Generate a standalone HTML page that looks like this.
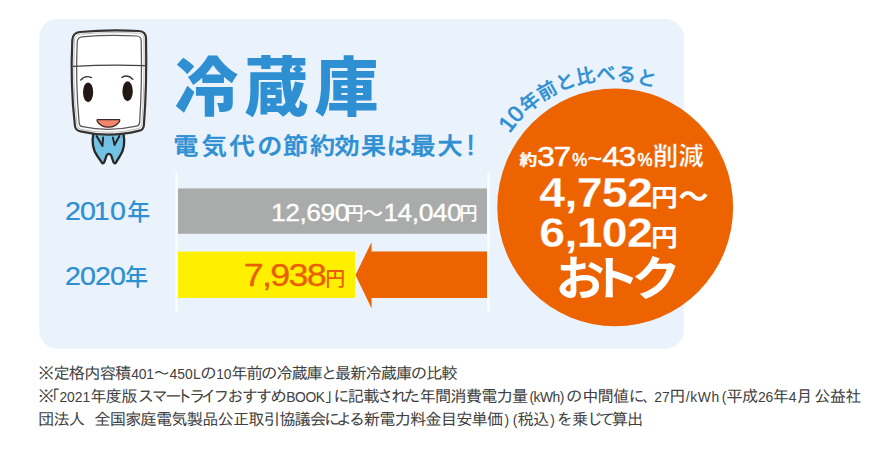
<!DOCTYPE html>
<html lang="ja">
<head>
<meta charset="utf-8">
<title>冷蔵庫 電気代の節約効果</title>
<style>
html,body{margin:0;padding:0;background:#fff;}
body{width:870px;height:454px;overflow:hidden;position:relative;
  font-family:"Liberation Sans","Noto Sans CJK JP",sans-serif;}
#art{position:absolute;left:0;top:0;width:870px;height:454px;display:block;}
</style>
</head>
<body>
<svg id="art" width="870" height="454" viewBox="0 0 870 454"
     font-family="'Liberation Sans','Noto Sans CJK JP',sans-serif">
  <rect x="39.2" y="19" width="644.7" height="329.7" rx="18" ry="18.5" fill="#eaf3fc"/>
  <rect x="175.2" y="173" width="2.2" height="139" fill="#fff" opacity="0.85"/>
  <rect x="487.2" y="173.5" width="2.2" height="138.5" fill="#fff" opacity="0.85"/>
  <rect x="178" y="188.4" width="309" height="45.4" fill="#aaacab"/>
  <rect x="178" y="251.6" width="177" height="46.3" fill="#fff000"/>
  <polygon points="355.5,275 371.6,241.9 371.6,251.6 487,251.6 487,297.9 371.6,297.9 371.6,308.4" fill="#ec6300"/>
  <ellipse cx="615.2" cy="207.3" rx="117.9" ry="118.9" fill="#ec6300"/>
  <text transform="translate(174.5 109.5) scale(1 1)" font-size="64" font-weight="900" fill="#2e8fd2" letter-spacing="6">冷蔵庫</text>
  <g><text transform="scale(1.08 1)" x="160.37 186.85 212.41 238.15 262.04 287.04 309.81 334.26 357.78 380.00 405.00 432.22" y="153.8" font-size="23.2" font-weight="500" fill="#2e8fd2" stroke="#2e8fd2" stroke-width="0.45">電気代の節約効果は最大</text><text transform="translate(466.6 154.6) scale(1 1)" font-size="29.5" font-weight="400" fill="#2e8fd2" stroke="#2e8fd2" stroke-width="0.5">!</text></g>
  <g><text transform="translate(64.9 219.7) scale(1.106 1)" font-size="25.9" font-weight="400" fill="#2e8fd2" letter-spacing="-0.84" x="0 13.56 26.1 40.69" stroke="#2e8fd2" stroke-width="0.25">2010</text><text transform="translate(127.3 219.8) scale(1 1)" font-size="23" font-weight="500" fill="#2e8fd2">年</text></g>
  <g><text transform="translate(64.9 285.3) scale(1.106 1)" font-size="25.9" font-weight="400" fill="#2e8fd2" letter-spacing="-0.84" stroke="#2e8fd2" stroke-width="0.25">2020</text><text transform="translate(125.0 285.4) scale(1 1)" font-size="23" font-weight="500" fill="#2e8fd2">年</text></g>
  <g><text transform="translate(271.0 220.7) scale(1.148 1)" font-size="23" font-weight="400" fill="#fff" letter-spacing="-0.42" stroke="#fff" stroke-width="0.3">12,690</text><text transform="translate(345.4 220.4) scale(1 1)" font-size="18" font-weight="500" fill="#fff">円</text><text transform="translate(362.6 220.6) scale(1 1)" font-size="20.5" font-weight="500" fill="#fff">〜</text><text transform="translate(383.4 220.7) scale(1.148 1)" font-size="23" font-weight="400" fill="#fff" letter-spacing="-0.42" stroke="#fff" stroke-width="0.3">14,040</text><text transform="translate(459.4 220.4) scale(1 1)" font-size="18" font-weight="500" fill="#fff">円</text></g>
  <g><text transform="translate(243.8 286.4) scale(1.172 1)" font-size="30.6" font-weight="400" fill="#ea5e00" letter-spacing="-1.46" stroke="#ea5e00" stroke-width="0.3">7,938</text><text transform="translate(325.2 285.6) scale(1 1)" font-size="20" font-weight="500" fill="#ea5e00">円</text></g>
  <g><text transform="translate(519.6 165.0) scale(1.2 1)" font-size="14.8" font-weight="700" fill="#fff" stroke="#fff" stroke-width="0.25">約</text><text transform="translate(537.2 165.8) scale(1.115 1)" font-size="28.3" font-weight="400" fill="#fff" letter-spacing="-1.04" stroke="#fff" stroke-width="0.55">37</text><text transform="translate(572.2 166.2) scale(0.94 1)" font-size="18" font-weight="400" fill="#fff" stroke="#fff" stroke-width="0.55">%</text><text transform="translate(587.6 166.5) scale(1.0 1)" font-size="25" font-weight="400" fill="#fff" stroke="#fff" stroke-width="0.3">~</text><text transform="translate(602.2 165.8) scale(1.115 1)" font-size="28.3" font-weight="400" fill="#fff" letter-spacing="-1.04" stroke="#fff" stroke-width="0.55">43</text><text transform="translate(637.6 166.2) scale(0.94 1)" font-size="18" font-weight="400" fill="#fff" stroke="#fff" stroke-width="0.55">%</text><text transform="translate(653.0 165.4) scale(1 1)" font-size="25.2" font-weight="700" fill="#fff" letter-spacing="0.3" stroke="#ec6300" stroke-width="0.45">削減</text></g>
  <g><text transform="translate(539.2 206.5) scale(1.093 1)" font-size="42.6" font-weight="700" fill="#fff" letter-spacing="-0.62" stroke="#ec6300" stroke-width="0.25">4,752</text><text transform="translate(651.0 205.6) scale(1.14 1)" font-size="23.5" font-weight="700" fill="#fff">円</text><text transform="translate(678.5 206.5) scale(1 1)" font-size="30" font-weight="700" fill="#fff">〜</text></g>
  <g><text transform="translate(539.2 246.5) scale(1.093 1)" font-size="42.6" font-weight="700" fill="#fff" letter-spacing="-0.62" stroke="#ec6300" stroke-width="0.25">6,102</text><text transform="translate(651.0 245.6) scale(1.14 1)" font-size="23.5" font-weight="700" fill="#fff">円</text></g>
  <text transform="scale(1.045 1)" x="531.67 565.17 604.40" y="294.6" font-size="47" font-weight="700" fill="#fff">おトク</text>
  <defs><path id="arc" d="M 509.66 133.49 A 123.9 123.9 0 0 1 682.47 102.71"/></defs>
  <text font-size="19.2" font-weight="500" fill="#2e8fd2" stroke="#2e8fd2" stroke-width="0.4" letter-spacing="0.35"><textPath href="#arc" startOffset="0"><tspan font-size="22.5" letter-spacing="-0.4" stroke-width="0.75">10</tspan><tspan dx="2.0">年</tspan>前と比べると</textPath></text>
  <text y="379.0" font-size="16.3" fill="#404040" font-family="'Liberation Sans','IPAGothic','Noto Sans CJK JP',sans-serif"><tspan x="38.05" textLength="93.3" lengthAdjust="spacing">※定格内容積</tspan><tspan x="131.2" font-size="13.86" textLength="22.8" lengthAdjust="spacing">401</tspan><tspan x="153.55">～</tspan><tspan x="169.6" font-size="13.86" textLength="31.0" lengthAdjust="spacing">450L</tspan><tspan x="200.15">の</tspan><tspan x="216.2" font-size="13.86" textLength="15.2" lengthAdjust="spacing">10</tspan><tspan x="231.15" textLength="31.7" lengthAdjust="spacing">年前</tspan><tspan x="260.95">の</tspan><tspan x="276.35" textLength="46.5" lengthAdjust="spacing">冷蔵庫</tspan><tspan x="320.95">と</tspan><tspan x="334.95" textLength="77.3" lengthAdjust="spacing">最新冷蔵庫</tspan><tspan x="410.75">の</tspan><tspan x="426.15" textLength="31.5" lengthAdjust="spacing">比較</tspan></text>
  <text y="401.8" font-size="16.3" fill="#404040" font-family="'Liberation Sans','IPAGothic','Noto Sans CJK JP',sans-serif"><tspan x="38.05">※</tspan><tspan x="51.75">｢</tspan><tspan x="59.4" font-size="13.86" textLength="30.8" lengthAdjust="spacing">2021</tspan><tspan x="90.15" textLength="47.3" lengthAdjust="spacing">年度版</tspan><tspan x="137.8 151.7 165.2 176.2 188.9 200.7 213.3 227.2 241.7 256.0 270.5">スマートライフおすすめ</tspan><tspan x="286.2" font-size="13.86" textLength="38.8" lengthAdjust="spacing">BOOK</tspan><tspan x="324.55">｣</tspan><tspan x="333.2">に</tspan><tspan x="347.85" textLength="31.7" lengthAdjust="spacing">記載</tspan><tspan x="377.1 390.9 403.9">された</tspan><tspan x="419.55" textLength="108.7" lengthAdjust="spacing">年間消費電力量</tspan><tspan x="529.4" font-size="13.86" textLength="35.0" lengthAdjust="spacing">(kWh)</tspan><tspan x="566.1">の</tspan><tspan x="582.15" textLength="47.1" lengthAdjust="spacing">中間値</tspan><tspan x="628.5">に</tspan><tspan x="642.15">、</tspan><tspan x="654.2" font-size="13.86" textLength="15.4" lengthAdjust="spacing">27</tspan><tspan x="669.15">円</tspan><tspan x="685.8" font-size="13.86" textLength="33.4" lengthAdjust="spacing">/kWh</tspan><tspan x="721.8" font-size="13.86">(</tspan><tspan x="726.55" textLength="31.7" lengthAdjust="spacing">平成</tspan><tspan x="757.9" font-size="13.86" textLength="15.4" lengthAdjust="spacing">26</tspan><tspan x="772.75">年</tspan><tspan x="788.7" font-size="13.86">4</tspan><tspan x="796.35">月</tspan><tspan x="814.35" textLength="47.1" lengthAdjust="spacing">公益社</tspan></text>
  <text y="425.4" font-size="16.3" fill="#404040" font-family="'Liberation Sans','IPAGothic','Noto Sans CJK JP',sans-serif"><tspan x="38.05" textLength="47.1" lengthAdjust="spacing">団法人</tspan><tspan x="94.35" textLength="231.9" lengthAdjust="spacing">全国家庭電気製品公正取引協議会</tspan><tspan x="324.0 336.1 348.8">による</tspan><tspan x="363.75" textLength="139.5" lengthAdjust="spacing">新電力料金目安単価</tspan><tspan x="504.6" font-size="13.86">)</tspan><tspan x="512.8" font-size="13.86">(</tspan><tspan x="517.55" textLength="31.7" lengthAdjust="spacing">税込</tspan><tspan x="550.2" font-size="13.86">)</tspan><tspan x="556.6">を</tspan><tspan x="572.05">乗</tspan><tspan x="586.4 598.8">じて</tspan><tspan x="611.75" textLength="31.5" lengthAdjust="spacing">算出</tspan></text>
  <g id="mascot" stroke-linecap="round" stroke-linejoin="round">
    <!-- body -->
    <path d="M93.4 133 C91.9 141 92.6 149.5 97.2 155.8 L101.6 162.2 Q103.2 164.4 104.4 162 L106.6 155.4 Q108.9 152.2 111.2 155.4 L113.4 162 Q114.6 164.4 116.2 162.2 L120 155.8 C124.4 149.5 124.9 141 123.4 133 Z" fill="#72c2e6" stroke="#2b2626" stroke-width="2.3"/>
    <path d="M96.6 136 L102.5 146 L103.1 137.6" fill="none" stroke="#2b2626" stroke-width="2"/>
    <path d="M119.4 136 L114.5 144.9 L112.9 137.6" fill="none" stroke="#2b2626" stroke-width="2"/>
    <!-- fridge -->
    <path d="M72.3 40 Q72.7 32.7 80 32 Q108 29.3 139 31 Q145.7 31.5 146 38 Q147 84 143.9 125 Q143.5 130.2 138.5 130.9 Q109 138.2 80.5 131.4 Q75.4 130.6 74.9 125.5 Q70.2 84 72.3 40 Z" fill="#ffffff" stroke="#363232" stroke-width="2.2"/>
    <path d="M74.4 40.6 Q74.8 34.8 80.6 34.2 Q108 31.6 138.6 33.2 Q143.6 33.6 143.9 38.6 Q144.8 84 141.8 124.4 Q141.5 128.2 137.8 128.8 Q109 135.6 81 129.3 Q77.3 128.7 77 124.9 Q72.4 84 74.4 40.6 Z" fill="none" stroke="#b4b4b4" stroke-width="0.9"/>
    <path d="M77.2 42 Q77.5 37.2 82 36.8 Q108 34.4 137 36 Q141 36.3 141.2 40.4 Q142.2 84 139.6 122.6 Q139.4 125.6 136.4 126.1 Q109 132.2 82.4 126.7 Q79.5 126.3 79.2 123.2 Q75.4 84 77.2 42 Z" fill="none" stroke="#5a5757" stroke-width="1.25"/>
    <path d="M73.6 66.4 Q108 64.4 144.6 65.6" fill="none" stroke="#444040" stroke-width="1.2"/>
    <!-- eyes -->
    <ellipse cx="88.1" cy="92.3" rx="5.1" ry="9.9" fill="#231815"/>
    <ellipse cx="127.6" cy="91.2" rx="5.2" ry="10" fill="#231815"/>
    <path d="M80.8 80 Q85.2 74.8 91.4 77.6" fill="none" stroke="#363232" stroke-width="1.4"/>
    <path d="M122 77.4 Q127.6 74 132.8 79.2" fill="none" stroke="#363232" stroke-width="1.4"/>
    <!-- mouth -->
    <path d="M97.6 119.7 L119.2 119.7 Q120.2 119.9 119.5 121.4 C117 125.8 112.5 127.2 108.4 127.2 C104.3 127.2 99.8 125.8 97.3 121.4 Q96.6 119.9 97.6 119.7 Z" fill="#f0866b" stroke="#3b2a26" stroke-width="1.2"/>
  </g>

</svg>
</body>
</html>
